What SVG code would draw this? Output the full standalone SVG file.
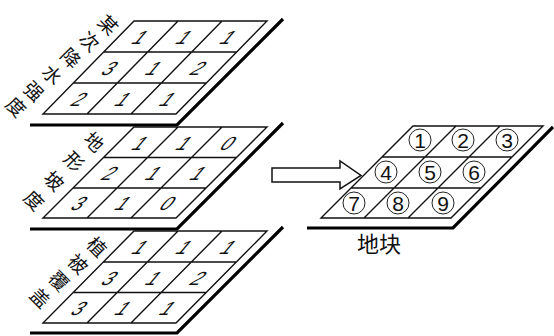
<svg xmlns="http://www.w3.org/2000/svg" width="554" height="336" viewBox="0 0 554 336">
<style>
.g{fill:none;stroke:#111;stroke-width:1.4;stroke-linejoin:miter}
.sh{fill:none;stroke:#000;stroke-width:3.2}
.d{font-family:"Liberation Sans",Arial,sans-serif;font-size:19px;fill:#111;text-anchor:middle}
.lb{font-family:"Noto Sans CJK SC","Noto Sans CJK JP",sans-serif;font-size:19px;fill:#111}
.ci{fill:none;stroke:#222;stroke-width:1}
.cn{font-family:"Liberation Sans",Arial,sans-serif;font-size:21px;fill:#111;text-anchor:middle}
.ar{fill:#fff;stroke:#111;stroke-width:1.5;stroke-linejoin:miter}
</style>
<rect width="554" height="336" fill="#fff"/>

<g id="layer1">
<polyline class="sh" points="30,125 177,125 283,19"/>
<path class="g" d="M134,21H267L176,114H43Z M103.7,52H236.7 M73.3,83H206.3 M178,21L87,114 M222,21L131,114"/>
<g class="d">
<text transform="translate(141,36.5) skewX(-40)" y="7">1</text>
<text transform="translate(185,36.5) skewX(-40)" y="7">1</text>
<text transform="translate(229,36.5) skewX(-40)" y="7">1</text>
<text transform="translate(110.5,67.5) skewX(-40)" y="7">3</text>
<text transform="translate(154.5,67.5) skewX(-40)" y="7">1</text>
<text transform="translate(199,67.5) skewX(-40)" y="7">2</text>
<text transform="translate(80,98.5) skewX(-40)" y="7">2</text>
<text transform="translate(124,98.5) skewX(-40)" y="7">1</text>
<text transform="translate(168.5,98.5) skewX(-40)" y="7">1</text>
</g>
<text class="lb" x="96.3,77.7,59.1,40.5,21.9,4.3" y="23.2,39.8,56.4,73,89.6,105.2" rotate="45">某次降水强度</text>
</g>

<g id="layer2">
<polyline class="sh" points="30,229 177,229 283,123"/>
<path class="g" d="M134,127H267L176,218H43Z M103.5,157.5H236.5 M73,188H206 M178,127L87,218 M222,127L131,218"/>
<g class="d">
<text transform="translate(141,142.5) skewX(-40)" y="7">1</text>
<text transform="translate(185,142.5) skewX(-40)" y="7">1</text>
<text transform="translate(229,142.5) skewX(-40)" y="7">0</text>
<text transform="translate(110.5,173) skewX(-40)" y="7">2</text>
<text transform="translate(154.5,173) skewX(-40)" y="7">1</text>
<text transform="translate(199,173) skewX(-40)" y="7">1</text>
<text transform="translate(80,203) skewX(-40)" y="7">3</text>
<text transform="translate(124,203) skewX(-40)" y="7">1</text>
<text transform="translate(168.5,203) skewX(-40)" y="7">0</text>
</g>
<text class="lb" x="82.3,62.3,42.3,22.3" y="140.2,159.7,179.2,198.7" rotate="45">地形坡度</text>
</g>

<g id="layer3">
<polyline class="sh" points="30,333 177,333 283,227"/>
<path class="g" d="M134,231H267L176,323H43Z M103.7,262H236.7 M73.3,292.5H206.3 M178,231L87,323 M222,231L131,323"/>
<g class="d">
<text transform="translate(141,246.5) skewX(-40)" y="7">1</text>
<text transform="translate(185,246.5) skewX(-40)" y="7">1</text>
<text transform="translate(229,246.5) skewX(-40)" y="7">1</text>
<text transform="translate(110.5,277.5) skewX(-40)" y="7">3</text>
<text transform="translate(154.5,277.5) skewX(-40)" y="7">1</text>
<text transform="translate(199,277.5) skewX(-40)" y="7">2</text>
<text transform="translate(80,308) skewX(-40)" y="7">3</text>
<text transform="translate(124,308) skewX(-40)" y="7">1</text>
<text transform="translate(168.5,308) skewX(-40)" y="7">1</text>
</g>
<text class="lb" x="85.3,66.3,47.3,28.3" y="245.2,262.2,279.2,296.2" rotate="45">植被覆盖</text>
</g>

<g id="parcel">
<polyline class="sh" points="307,228 453,228 553,127"/>
<path class="g" d="M413,126H543L451,218H321Z M382,157H512 M351,188H481 M456,126L364,218 M500,126L408,218"/>
<g class="ci">
<circle cx="420" cy="140" r="11"/><circle cx="463" cy="140" r="11"/><circle cx="507" cy="140" r="11"/>
<circle cx="386" cy="172" r="11"/><circle cx="430" cy="172" r="11"/><circle cx="474" cy="172" r="11"/>
<circle cx="354" cy="203" r="11"/><circle cx="398" cy="203" r="11"/><circle cx="443" cy="203" r="11"/>
</g>
<g class="cn">
<text x="420" y="147.5">1</text>
<text x="463" y="147.5">2</text>
<text x="507" y="147.5">3</text>
<text x="386" y="179.5">4</text>
<text x="430" y="179.5">5</text>
<text x="474" y="179.5">6</text>
<text x="354" y="210.5">7</text>
<text x="398" y="210.5">8</text>
<text x="443" y="210.5">9</text>
</g>
<text x="379" y="252" font-family="Noto Sans CJK SC, Noto Sans CJK JP, sans-serif" font-size="22" fill="#111" text-anchor="middle">地块</text>
</g>

<g id="connectors">
<polygon class="ar" points="272,168 340,168 340,161 361,175.5 340,189 340,182 272,182"/>
</g>
</svg>
